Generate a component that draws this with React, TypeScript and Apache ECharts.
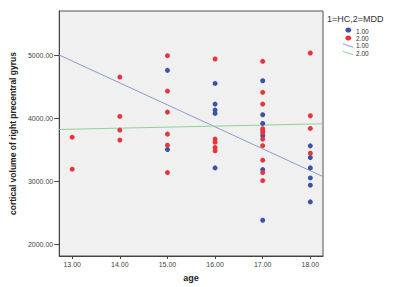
import React, { useEffect, useRef } from "react";
import * as echarts from "echarts";

const xTicks = [13, 14, 15, 16, 17, 18];
const yTicks = [2000, 3000, 4000, 5000];

// group 1 = HC (blue)
const hcPoints: [number, number][] = [
  [15, 4757], [15, 3502],
  [16, 4550], [16, 4222], [16, 4127], [16, 4074], [16, 3211],
  [17, 4592], [17, 4053], [17, 3916], [17, 3720], [17, 3184], [17, 2381],
  [18, 3560], [18, 3376], [18, 3211], [18, 3052], [18, 2937], [18, 2672],
];
// group 2 = MDD (red)
const mddPoints: [number, number][] = [
  [13, 3698], [13, 3190],
  [14, 4651], [14, 4027], [14, 3810], [14, 3651],
  [15, 4990], [15, 4429], [15, 4095], [15, 3746], [15, 3571], [15, 3137],
  [16, 4937], [16, 3667], [16, 3619], [16, 3534], [16, 3481],
  [17, 4900], [17, 4408], [17, 4222], [17, 3831], [17, 3799], [17, 3767], [17, 3667],
  [17, 3563], [17, 3333], [17, 3137], [17, 3010],
  [18, 5032], [18, 4037], [18, 3836], [18, 3444],
];
// fit lines
const hcFit: [number, number][] = [[12.727, 5000], [18.266, 3073]];
const mddFit: [number, number][] = [[12.727, 3820], [18.266, 3910]];

const legendTitle = "1=HC,2=MDD";
const legendLabels = ["1.00", "2.00", "1.00", "2.00"];

const xMin = 12.727;
const xMax = 18.266;
const yMin = 1814;
const yMax = 5698;

const BLUE = "#3a53a6";
const RED = "#e8343c";
const BLUE_LINE = "#8d9bd2";
const GREEN_LINE = "#8fd394";

export default function App() {
  const ref = useRef<HTMLDivElement>(null);
  useEffect(() => {
    document.body.style.margin = "0";
    const chart = echarts.init(ref.current!, null, { renderer: "svg" });
    const font = "Liberation Sans, Arial, sans-serif";
    const legendYs = [31, 38.3, 45.6, 53];
    chart.setOption({
      animation: false,
      backgroundColor: "#ffffff",
      grid: {
        left: 59,
        top: 11,
        right: 77,
        bottom: 31,
        show: true,
        backgroundColor: "#f0f0f0",
        borderColor: "#555555",
        borderWidth: 1,
      },
      xAxis: {
        type: "value",
        min: xMin,
        max: xMax,
        name: "age",
        nameLocation: "middle",
        nameGap: 17,
        nameTextStyle: { fontFamily: font, fontSize: 9, fontWeight: "bold", color: "#222" },
        axisLine: { show: true, lineStyle: { color: "#444" } },
        axisTick: { show: true, length: 3, customValues: xTicks, lineStyle: { color: "#444" } },
        axisLabel: {
          customValues: xTicks,
          formatter: (v: number) => v.toFixed(2),
          fontFamily: font,
          fontSize: 7,
          color: "#444",
          margin: 5,
        },
        splitLine: { show: false },
      },
      yAxis: {
        type: "value",
        min: yMin,
        max: yMax,
        name: "cortical volume of right precentral gyrus",
        nameLocation: "middle",
        nameGap: 38,
        nameTextStyle: { fontFamily: font, fontSize: 8.5, fontWeight: "bold", color: "#222" },
        axisLine: { show: true, lineStyle: { color: "#444" } },
        axisTick: { show: true, length: 5, customValues: yTicks, lineStyle: { color: "#444" } },
        axisLabel: {
          customValues: yTicks,
          formatter: (v: number) => v.toFixed(2),
          fontFamily: font,
          fontSize: 7,
          color: "#444",
          margin: 6,
        },
        splitLine: { show: false },
      },
      series: [
        {
          type: "line",
          data: hcFit,
          symbol: "none",
          lineStyle: { color: BLUE_LINE, width: 1 },
          silent: true,
          z: 1,
        },
        {
          type: "line",
          data: mddFit,
          symbol: "none",
          lineStyle: { color: GREEN_LINE, width: 1 },
          silent: true,
          z: 1,
        },
        {
          type: "scatter",
          data: hcPoints,
          symbolSize: 5,
          itemStyle: { color: BLUE, opacity: 1 },
          z: 3,
        },
        {
          type: "scatter",
          data: mddPoints,
          symbolSize: 5,
          itemStyle: { color: RED, opacity: 1 },
          z: 3,
        },
      ],
      graphic: [
        {
          type: "text",
          x: 327,
          y: 19,
          style: { text: legendTitle, fontFamily: font, fontSize: 9, fill: "#333", verticalAlign: "middle" },
        },
        { type: "ellipse", shape: { cx: 348.3, cy: 30, rx: 3, ry: 2.6 }, style: { fill: BLUE } },
        { type: "ellipse", shape: { cx: 348.3, cy: 38, rx: 3, ry: 2.6 }, style: { fill: RED } },
        { type: "line", shape: { x1: 342.7, y1: 43.7, x2: 353.3, y2: 47.3 }, style: { stroke: BLUE_LINE, lineWidth: 1 } },
        { type: "line", shape: { x1: 342.7, y1: 51.3, x2: 353.3, y2: 54.7 }, style: { stroke: GREEN_LINE, lineWidth: 1 } },
        ...legendLabels.map((t, i) => ({
          type: "text",
          x: 356,
          y: legendYs[i],
          style: { text: t, fontFamily: font, fontSize: 6.5, fill: "#333", verticalAlign: "middle" },
        })),
      ],
    });
    return () => chart.dispose();
  }, []);
  return <div ref={ref} style={{ width: 400, height: 287 }} />;
}
